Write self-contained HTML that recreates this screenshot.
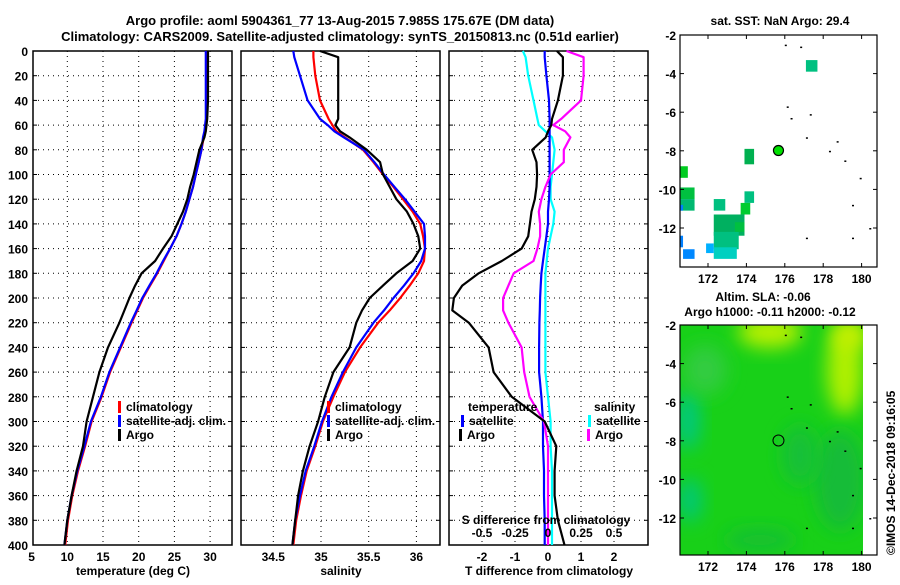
<!DOCTYPE html>
<html><head><meta charset="utf-8"><style>
body{margin:0;background:#fff}
svg text{font-family:"Liberation Sans",sans-serif;font-weight:bold;font-size:12px;fill:#000}
</style></head><body>
<svg id="s" width="900" height="580" xmlns="http://www.w3.org/2000/svg">
<defs><filter id="blur" x="-50%" y="-50%" width="200%" height="200%"><feGaussianBlur stdDeviation="9"/></filter>
<clipPath id="m2clip"><rect x="680" y="325" width="183" height="230"/></clipPath></defs>
<text x="340" y="25" text-anchor="middle" style="font-size:13px">Argo profile: aoml 5904361_77 13-Aug-2015 7.985S 175.67E (DM data)</text>
<text x="340" y="41" text-anchor="middle" style="font-size:13px">Climatology: CARS2009. Satellite-adjusted climatology: synTS_20150813.nc (0.51d earlier)</text>
<g id="g"></g>
</svg>
<script>
// depth levels
const depths=[0,5,20,40,55,60,65,70,80,90,100,110,120,130,140,150,160,170,180,190,200,210,220,240,260,280,300,320,340,360,380,400];
// temperature (deg C)
const tClim=[29.5,29.5,29.5,29.5,29.5,29.4,29.3,29.1,28.8,28.4,28.0,27.6,27.1,26.6,26.0,25.3,24.4,23.5,22.6,21.6,20.6,19.8,19.0,17.5,16.0,14.8,13.4,12.5,11.5,10.7,10.1,9.7];
const tSat=[29.4,29.4,29.4,29.4,29.4,29.3,29.2,29.0,28.8,28.4,28.0,27.6,27.1,26.6,26.0,25.3,24.4,23.4,22.5,21.5,20.5,19.7,18.9,17.4,15.9,14.7,13.3,12.4,11.4,10.6,10.0,9.6];
const tArgo=[29.7,29.7,29.7,29.7,29.6,29.5,29.4,29.2,28.5,28.1,27.7,27.2,26.8,26.2,25.4,24.6,23.4,22.3,20.4,19.5,18.7,18.0,17.3,15.7,14.5,13.6,12.7,12.2,11.3,10.6,10.0,9.6];
// salinity
const sClim=[34.92,34.92,34.94,34.99,35.08,35.12,35.16,35.25,35.44,35.55,35.65,35.76,35.86,35.96,36.04,36.07,36.09,36.08,36.02,35.93,35.83,35.72,35.60,35.41,35.25,35.13,35.02,34.94,34.85,34.79,34.74,34.71];
const sSat=[34.71,34.72,34.78,34.86,34.99,35.07,35.14,35.24,35.45,35.56,35.66,35.77,35.88,35.98,36.08,36.09,36.09,36.05,35.97,35.87,35.76,35.66,35.55,35.37,35.23,35.11,35.01,34.93,34.84,34.78,34.73,34.70];
const sArgo=[34.99,35.18,35.18,35.18,35.18,35.15,35.2,35.3,35.48,35.62,35.65,35.72,35.79,35.9,35.97,36.02,36.04,35.96,35.79,35.65,35.51,35.43,35.37,35.30,35.13,35.04,34.97,34.88,34.81,34.76,34.73,34.70];
// differences
const dTArgo=[0.27,0.45,0.45,0.3,0.12,0.1,0.0,-0.07,-0.48,-0.35,-0.33,-0.35,-0.4,-0.5,-0.55,-0.6,-0.8,-1.4,-2.1,-2.6,-2.85,-2.9,-2.4,-1.8,-1.65,-1.1,-0.1,0.25,0.2,0.2,0.3,0.5];
const dTSat=[-0.1,-0.1,-0.05,0.03,0.05,0.05,0.05,0.05,0.05,0.05,0.05,0.05,0.03,0.0,0.0,-0.05,-0.1,-0.15,-0.2,-0.22,-0.24,-0.25,-0.26,-0.27,-0.27,-0.2,-0.15,-0.15,-0.12,-0.12,-0.1,-0.1];
const dSArgo=[0.14,0.27,0.27,0.25,0.1,0.04,0.13,0.17,0.12,0.12,0.02,-0.02,-0.05,-0.07,-0.06,-0.06,-0.08,-0.11,-0.26,-0.3,-0.34,-0.34,-0.3,-0.2,-0.18,-0.14,-0.03,0.0,0.0,0.0,0.0,0.0];
const dSSat=[-0.19,-0.17,-0.15,-0.11,-0.08,-0.07,-0.02,0.03,0.05,0.04,0.03,0.02,0.02,0.05,0.04,0.02,0.0,-0.01,-0.02,-0.02,-0.02,-0.02,-0.02,-0.02,-0.02,0.0,0.02,0.02,0.03,0.03,0.03,0.03];
const depthTicks=[0,20,40,60,80,100,120,140,160,180,200,220,240,260,280,300,320,340,360,380,400];
const tTicks=[5,10,15,20,25,30];
const sTicks=[34.5,35,35.5,36];
const dTTicks=[-2,-1,0,1,2];
const dSTicks=[-0.5,-0.25,0,0.25,0.5];
const dSLabels=["-0.5","-0.25","0","0.25","0.5"];
const latTicks=[-2,-4,-6,-8,-10,-12];
const lonTicks=[172,174,176,178,180];
// island specks [lon,lat]
const islands=[[176.0,-2.5],[176.8,-2.6],[176.1,-5.7],[176.3,-6.3],[177.3,-6.1],[177.1,-7.3],[178.7,-7.5],[178.3,-8.0],[179.1,-8.5],[179.9,-9.4],[179.5,-10.8],[177.1,-12.5],[179.5,-12.5],[180.4,-12.0]];

const NS="http://www.w3.org/2000/svg", G=document.getElementById('g');
function el(t,a,p){const e=document.createElementNS(NS,t);for(const k in a)e.setAttribute(k,a[k]);(p||G).appendChild(e);return e;}
const yD=d=>51+d*1.235;
const xT=t=>67.3+(t-10)*7.14;
const xS=s=>273.3+(s-34.5)*95.4;
const xDT=v=>548+v*33;
const xDS=v=>548+v*132;
const lonX=l=>708+(l-172)*19.2;
const latY1=l=>35+(-2-l)*19.3;
const latY2=l=>325+(-2-l)*19.3;

function panel(x0,name,ticks,fx,labels,title){
  const g=el('g',{});
  depthTicks.forEach(d=>{const y=yD(d);
    if(d>0&&d<400){const l=el('line',{x1:x0,x2:x0+199,y1:y,y2:y,stroke:'#000','stroke-dasharray':'1,4','stroke-width':1},g);}
    el('line',{x1:x0,x2:x0+4,y1:y,y2:y,stroke:'#000'},g);el('line',{x1:x0+195,x2:x0+199,y1:y,y2:y,stroke:'#000'},g);
  });
  ticks.forEach((v,i)=>{const x=fx(v);
    if(x>x0+2&&x<x0+197){const l=el('line',{x1:x,x2:x,y1:51,y2:545,stroke:'#000','stroke-dasharray':'1,4'},g);}
    const t=el('text',{x:x,y:561,'text-anchor':'middle'},g);t.textContent=labels?labels[i]:String(v);
    
  });
  const r=el('rect',{x:x0,y:51,width:199,height:494,fill:'none',stroke:'#000','stroke-width':1.5},g);
  
  const t=el('text',{x:x0+100,y:575,'text-anchor':'middle'},g);t.textContent=title;
  
}
depthTicks.forEach(d=>{const t=el('text',{x:28,y:yD(d)+5,'text-anchor':'end'});t.textContent=d;
  });
panel(33,'temperature-panel',tTicks,xT,null,'temperature (deg C)');
panel(241,'salinity-panel',sTicks,xS,null,'salinity');
panel(449,'difference-panel',dTTicks,xDT,null,'T difference from climatology');

function line(vals,fx,color,name,w){
  const p=vals.map((v,i)=>(i?'L':'M')+fx(v).toFixed(1)+','+yD(depths[i]).toFixed(1)).join('');
  const e=el('path',{d:p,fill:'none',stroke:color,'stroke-width':w||2.2,'stroke-linejoin':'round'});
  
}
line(tClim,xT,'#ff0000','temp-climatology-line');line(tSat,xT,'#0000ff','temp-satellite-line');line(tArgo,xT,'#000','temp-argo-line');
line(sClim,xS,'#ff0000','sal-climatology-line');line(sSat,xS,'#0000ff','sal-satellite-line');line(sArgo,xS,'#000','sal-argo-line');
line(dSSat,xDS,'#00ffff','sdiff-satellite-line');line(dTSat,xDT,'#0000ff','tdiff-satellite-line');line(dSArgo,xDS,'#ff00ff','sdiff-argo-line');line(dTArgo,xDT,'#000','tdiff-argo-line');

function leg(x,y,c,txt){const r=el('rect',{x:x,y:y-10,width:3,height:12,fill:c});
  if(txt){const t=el('text',{x:x+8,y:y});t.textContent=txt;}}
function txt(x,y,s,name,anc){const t=el('text',{x:x,y:y,'text-anchor':anc||'start'});t.textContent=s;return t;}
leg(118,411,'#ff0000','climatology');leg(118,425,'#0000ff','satellite-adj. clim.');leg(118,439,'#000','Argo');
leg(327,411,'#ff0000','climatology');leg(327,425,'#0000ff','satellite-adj. clim.');leg(327,439,'#000','Argo');
txt(468,411,'temperature','legend-title-temperature');leg(461,425,'#0000ff','satellite');leg(459,439,'#000','Argo');
txt(594,411,'salinity','legend-title-salinity');leg(588,425,'#00ffff','satellite');leg(587,439,'#ff00ff','Argo');
txt(546,524,'S difference from climatology','s-diff-axis-title','middle');
dSTicks.forEach((v,i)=>txt(xDS(v),537,dSLabels[i],'s-diff-tick-label','middle'));

// maps
function mapAxes(y0,h,latY,right,name){
  const g=el('g',{});
  latTicks.forEach(l=>{const y=latY(l);el('line',{x1:680,x2:684,y1:y,y2:y,stroke:'#000'},g);el('line',{x1:right-4,x2:right,y1:y,y2:y,stroke:'#000'},g);
    const t=el('text',{x:676,y:y+5,'text-anchor':'end'},g);t.textContent=l;});
  lonTicks.forEach(l=>{const x=lonX(l);el('line',{x1:x,x2:x,y1:y0,y2:y0+4,stroke:'#000'},g);el('line',{x1:x,x2:x,y1:y0+h-4,y2:y0+h,stroke:'#000'},g);
    const t=el('text',{x:x,y:y0+h+16,'text-anchor':'middle'},g);t.textContent=l;});
  const r=el('rect',{x:680,y:y0,width:right-680,height:h,fill:'none',stroke:'#000','stroke-width':1.2},g);
}
// SST squares [lon0,lat0,lon1,lat1,color]
const sstCells=[[177.1,-3.3,177.7,-3.9,'#00c080'],[173.9,-7.9,174.4,-8.7,'#00b050'],[173.9,-10.1,174.4,-10.7,'#00c080'],[173.7,-10.7,174.2,-11.3,'#00cc30'],
[170.55,-8.8,170.95,-9.4,'#00cc20'],[170.55,-9.9,171.3,-10.5,'#00c040'],[170.55,-10.5,171.3,-11.1,'#00b870'],[170.55,-10.8,170.7,-11.1,'#0080ff'],
[172.3,-10.5,172.9,-11.1,'#00c080'],[172.3,-11.3,173.9,-12.4,'#00b060'],[172.3,-12.2,173.6,-13.1,'#00c080'],[172.3,-13.0,173.5,-13.6,'#00d0c0'],
[171.9,-12.8,172.3,-13.3,'#00b0ff'],[170.7,-13.1,171.3,-13.6,'#0088ff'],[170.55,-12.4,170.7,-13.0,'#0080ff'],[173.4,-11.7,173.9,-12.2,'#00c040']];
sstCells.forEach(c=>{const r=el('rect',{x:lonX(c[0]),y:latY1(c[1]),width:lonX(c[2])-lonX(c[0]),height:latY1(c[3])-latY1(c[1]),fill:c[4]});
  });
islands.forEach(p=>{const r=el('rect',{x:lonX(p[0]),y:latY1(p[1]),width:2,height:1.5,fill:'#000'});});
const c1=el('circle',{cx:lonX(175.67),cy:latY1(-7.985),r:5,fill:'#00e000',stroke:'#000','stroke-width':1.2});
mapAxes(35,232,latY1,877,'sst-map');
txt(780,25,'sat. SST: NaN Argo: 29.4','sst-map-title','middle');

// SLA field
const bg=el('g',{'clip-path':'url(#m2clip)'});
el('rect',{x:680,y:325,width:183,height:230,fill:'#18d018'},bg);
const blobs=[[770,332,32,16,'#b8f000'],[845,370,18,45,'#b0f000'],[850,335,18,15,'#c8f000'],[688,420,12,30,'#00c880'],[690,500,12,22,'#00c878'],[840,480,25,50,'#14bc38'],[760,540,35,12,'#14c030'],[705,370,22,25,'#30cc40'],[800,455,18,30,'#14c038']];
blobs.forEach(b=>{el('ellipse',{cx:b[0],cy:b[1],rx:b[2],ry:b[3],fill:b[4],filter:'url(#blur)'},bg);});
islands.forEach(p=>{const r=el('rect',{x:lonX(p[0]),y:latY2(p[1]),width:2,height:1.5,fill:'#000'});});
const c2=el('circle',{cx:lonX(175.67),cy:latY2(-7.985),r:5.5,fill:'none',stroke:'#000','stroke-width':1});
mapAxes(325,230,latY2,877,'sla-map');
txt(763,301,'Altim. SLA: -0.06','sla-map-title','middle');
txt(770,316,'Argo h1000: -0.11 h2000: -0.12','sla-map-subtitle','middle');
const cp=el('text',{x:0,y:0,transform:'translate(895,555) rotate(-90)','text-anchor':'start'});cp.textContent='©IMOS 14-Dec-2018 09:16:05';

</script>
</body></html>
